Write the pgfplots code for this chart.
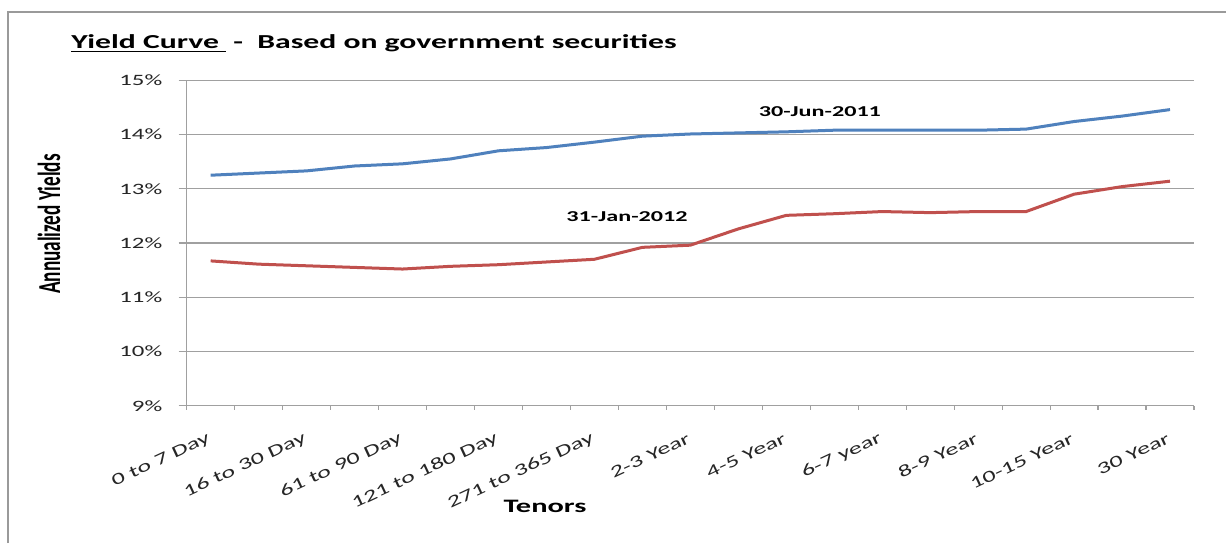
\documentclass[border=0pt]{standalone}
\usepackage{fontspec}
\usepackage{pgfplots}
\pgfplotsset{compat=1.18}
\setmainfont{Carlito}
\newfontfamily\tickfont[FakeStretch=1.57]{Carlito}
\newfontfamily\wideb[FakeStretch=1.6]{Carlito}
\newfontfamily\ylabfont[FakeStretch=0.6]{Carlito}
\definecolor{blueline}{HTML}{4F81BD}
\definecolor{redline}{HTML}{C0504D}
\definecolor{gridc}{HTML}{A0A0A0}
\definecolor{framec}{HTML}{9A9A9A}
\pgfplotstableread{
x y
0 13.25
1 13.29
2 13.33
3 13.42
4 13.46
5 13.55
6 13.70
7 13.76
8 13.86
9 13.97
10 14.01
11 14.03
12 14.05
13 14.08
14 14.08
15 14.08
16 14.08
17 14.10
18 14.24
19 14.34
20 14.46
}\junedata
\pgfplotstableread{
x y
0 11.67
1 11.61
2 11.58
3 11.55
4 11.52
5 11.57
6 11.60
7 11.65
8 11.70
9 11.92
10 11.96
11 12.26
12 12.51
13 12.54
14 12.58
15 12.56
16 12.58
17 12.58
18 12.90
19 13.04
20 13.14
}\jandata
\begin{document}
\begin{tikzpicture}
\useasboundingbox (0,0) rectangle (613pt,271.5pt);
\fill[white] (0,0) rectangle (613pt,271.5pt);
\draw[framec, line width=1pt] (3.75pt,0) -- (3.75pt,265.5pt) -- (613pt,265.5pt);
\begin{axis}[
  at={(93.35pt,68.65pt)}, anchor=south west,
  scale only axis, width=503.65pt, height=162.7pt,
  xmin=-0.5, xmax=20.5, ymin=9, ymax=15,
  axis lines=left,
  axis line style={-, gridc, line width=0.6pt},
  tick align=outside,
  xtick={0,2,...,20},
  xticklabels={0 to 7 Day,16 to 30 Day,61 to 90 Day,121 to 180 Day,271 to 365 Day,2-3 Year,4-5 Year,6-7 year,8-9 Year,10-15 Year,30 Year},
  minor xtick={-0.5,0.5,...,20.5},
  major x tick style={draw=none},
  minor tick length=2pt,
  major tick length=4pt,
  every tick/.style={gridc, line width=0.6pt},
  ytick={9,10,...,15},
  yticklabel={\pgfmathprintnumber{\tick}\%},
  /pgf/number format/assume math mode=true,
  ymajorgrids,
  grid style={gridc, line width=0.6pt},
  xticklabel style={font=\tickfont\fontsize{8.3pt}{9pt}\selectfont, text=black!85, rotate=25, anchor=east, inner sep=0pt, xshift=-5.5pt, yshift=-10.5pt},
  yticklabel style={font=\tickfont\fontsize{7.9pt}{9pt}\selectfont, text=black!85, anchor=east, inner sep=0pt, xshift=-8pt},
  clip=false,
]
\addplot[blueline, line width=1.5pt] table[x=x,y=y] {\junedata};
\addplot[redline, line width=1.5pt] table[x=x,y=y] {\jandata};
\node[font=\wideb\bfseries\fontsize{7.55pt}{9pt}\selectfont] at (axis cs:12.7,14.43) {30-Jun-2011};
\node[font=\wideb\bfseries\fontsize{7.55pt}{9pt}\selectfont] at (axis cs:8.68,12.48) {31-Jan-2012};
\end{axis}
\node[anchor=base west, font=\wideb\bfseries\fontsize{9.9pt}{12pt}\selectfont, inner sep=0pt] at (35.5pt,247.5pt) {\underline{Yield Curve\ }\ -\ \ Based on government securities};
\node[anchor=base, font=\wideb\bfseries\fontsize{9.5pt}{12pt}\selectfont, inner sep=0pt] at (272.5pt,15.5pt) {Tenors};
\node[rotate=90, font=\ylabfont\bfseries\fontsize{16pt}{18pt}\selectfont, inner sep=0pt] at (24.5pt,159.5pt) {Annualized Yields};
\end{tikzpicture}
\end{document}
